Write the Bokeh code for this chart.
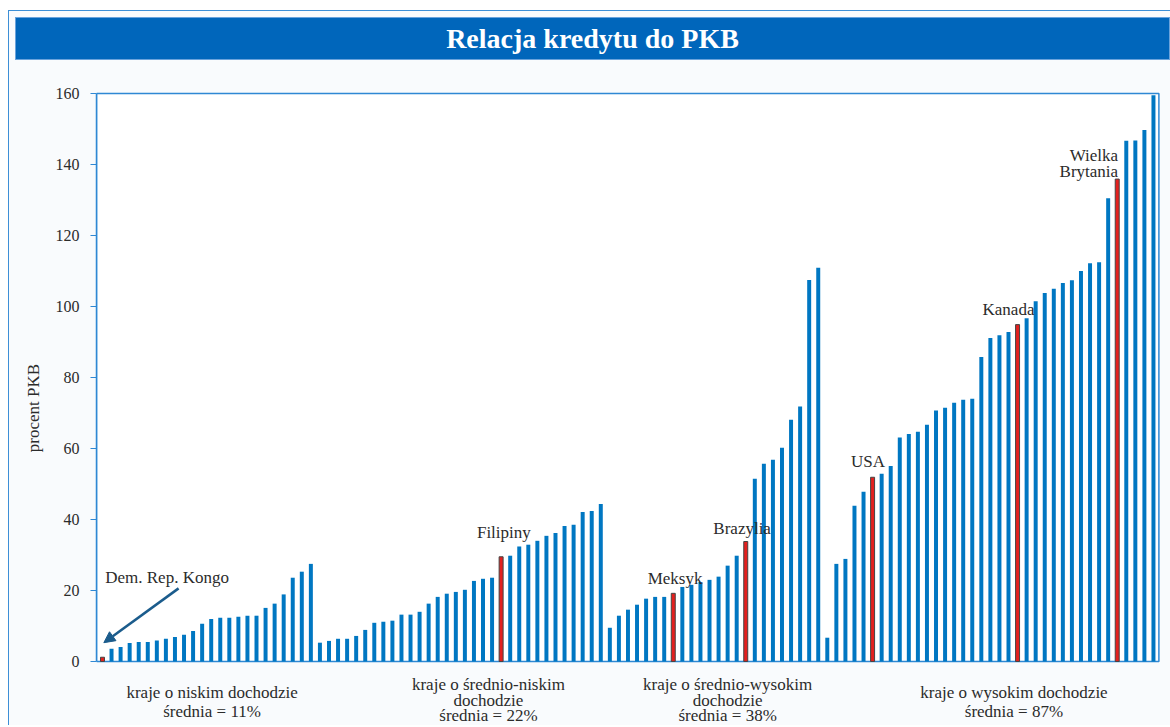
from bokeh.plotting import figure
from bokeh.models import Range1d, Label, Arrow, NormalHead, Div, FixedTicker
from bokeh.layouts import column
from bokeh.embed import file_html
from bokeh.resources import INLINE

# ---- data (percent of GDP) ----
low_income = [1.2, 3.6, 4.1, 5.2, 5.5, 5.5, 5.9, 6.4, 6.9, 7.5, 8.6, 10.6, 12.0, 12.3, 12.3,
              12.6, 12.9, 12.9, 15.1, 16.3, 18.9, 23.6, 25.3, 27.5]
lower_middle = [5.3, 5.8, 6.4, 6.4, 7.2, 8.9, 10.9, 11.2, 11.5, 13.2, 13.2, 14.0, 16.3, 18.2,
                19.1, 19.6, 20.2, 22.7, 23.3, 23.6, 29.5, 29.8, 32.4, 32.9, 34.0, 35.4, 36.2,
                38.2, 38.5, 42.1, 42.4, 44.4]
upper_middle = [9.5, 12.9, 14.6, 16.0, 17.7, 18.2, 18.2, 19.2, 21.0, 21.6, 22.4, 23.0, 23.9,
                27.0, 29.8, 33.8, 51.5, 55.7, 56.8, 60.2, 68.1, 71.8, 107.5, 110.9]
high_income = [6.7, 27.5, 28.9, 43.9, 47.8, 51.9, 52.9, 55.1, 63.1, 64.1, 64.7, 66.7, 70.7,
               71.5, 72.9, 73.7, 74.0, 85.8, 91.1, 91.9, 92.8, 94.9, 96.7, 101.5, 103.8, 105.0,
               106.6, 107.4, 110.0, 112.2, 112.5, 130.5, 135.9, 146.7, 146.8, 149.7, 159.5]

groups = [low_income, lower_middle, upper_middle, high_income]
# highlighted countries: (group index, position in group)
highlights = [(0, 0), (1, 20), (2, 7), (2, 15), (3, 5), (3, 21), (3, 32)]
group_labels = [
    ["kraje o niskim dochodzie", "średnia = 11%"],
    ["kraje o średnio-niskim", "dochodzie", "średnia = 22%"],
    ["kraje o średnio-wysokim", "dochodzie", "średnia = 38%"],
    ["kraje o wysokim dochodzie", "średnia = 87%"],
]
y_ticks = [0, 20, 40, 60, 80, 100, 120, 140, 160]

# ---- bar positions ----
xs, ys, starts = [], [], []
pos = 0
for g in groups:
    starts.append(pos)
    for v in g:
        xs.append(pos)
        ys.append(v)
        pos += 1
hi_idx = [starts[g] + i for g, i in highlights]
blue_x = [x for x in xs if x not in hi_idx]
blue_y = [ys[x] for x in blue_x]
red_x = hi_idx
red_y = [ys[x] for x in hi_idx]

SERIF = "Liberation Serif"
BLUE = "#0077c2"
FRAME = "#2f88d4"
TXT = "#2b2b2b"
BG = "#f9fbfd"

X0, X1 = -0.66, 117.66
Y0, Y1 = -18.03, 160.85
XR = 116.6  # right edge of the plotting box

p = figure(width=1159, height=665, output_backend="svg", toolbar_location=None,
           x_range=Range1d(X0, X1), y_range=Range1d(Y0, Y1), x_axis_location=None,
           min_border_left=87, min_border_right=0, min_border_top=30, min_border_bottom=0)
p.background_fill_color = BG
p.border_fill_color = BG
p.outline_line_color = None
p.xgrid.visible = False
p.ygrid.visible = False

# white plotting box with blue frame
p.quad(left=X0, right=XR, bottom=0, top=160, fill_color="#ffffff",
       line_color=FRAME, line_width=1.5)

ya = p.yaxis[0]
ya.ticker = FixedTicker(ticks=y_ticks)
ya.bounds = (0, 160)
ya.axis_line_color = FRAME
ya.axis_line_width = 1.5
ya.major_tick_line_color = FRAME
ya.major_tick_out = 6
ya.major_tick_in = 0
ya.minor_tick_line_color = None
ya.major_label_text_font = SERIF
ya.major_label_text_font_size = "16px"
ya.major_label_text_color = TXT
ya.major_label_standoff = 11
ya.axis_label = "procent PKB"
ya.axis_label_text_font = SERIF
ya.axis_label_text_font_style = "normal"
ya.axis_label_text_font_size = "17px"
ya.axis_label_text_color = TXT
ya.axis_label_standoff = 10

p.vbar(x=blue_x, top=blue_y, width=0.44, fill_color=BLUE, line_color=None)
p.vbar(x=red_x, top=red_y, width=0.44, fill_color="#e3201e", line_color="#444444", line_width=1)

def lab(x, y, t, align="center", size="17px"):
    p.add_layout(Label(x=x, y=y, text=t, text_font=SERIF, text_font_size=size,
                       text_color=TXT, text_align=align, text_baseline="middle"))

# annotations near highlighted bars
lab(0.3, 23.7, "Dem. Rep. Kongo", align="left")
lab(44.3, 36.3, "Filipiny")
lab(63.2, 23.4, "Meksyk")
lab(70.6, 37.5, "Brazylia")
lab(84.5, 56.3, "USA")
lab(100.0, 99.2, "Kanada")
lab(112.1, 142.4, "Wielka", align="right")
lab(112.1, 138.0, "Brytania", align="right")

p.add_layout(Arrow(end=NormalHead(size=11, fill_color="#1b5c8c", line_color="#1b5c8c"),
                   x_start=8.4, y_start=20.6, x_end=0.15, y_end=5.3,
                   line_color="#1b5c8c", line_width=2.5))

# group captions below the axis
centers = [12.1, 42.6, 69.0, 100.6]
for c, lines in zip(centers, group_labels):
    if len(lines) == 2:
        yy = [-8.73, -14.08]
    else:
        yy = [-6.5, -10.95, -15.3]
    for t, y in zip(lines, yy):
        lab(c, y, t)

title = Div(text="Relacja kredytu do PKB", width=1155, height=43, margin=(6, 0, 0, 6),
            styles={"background-color": "#0066bb", "color": "#ffffff",
                    "font-family": "'Liberation Serif', serif", "font-weight": "bold",
                    "font-size": "28px", "line-height": "41px", "text-align": "center",
                    "border": "1px solid #6aa3dc", "box-sizing": "border-box"})

layout = column(title, p, spacing=0, margin=(10, 0, 0, 8),
                styles={"border-left": "1px solid #3d8fd6", "border-top": "1px solid #3d8fd6",
                        "background-color": BG})

open("out.html", "w").write(file_html(layout, INLINE))
